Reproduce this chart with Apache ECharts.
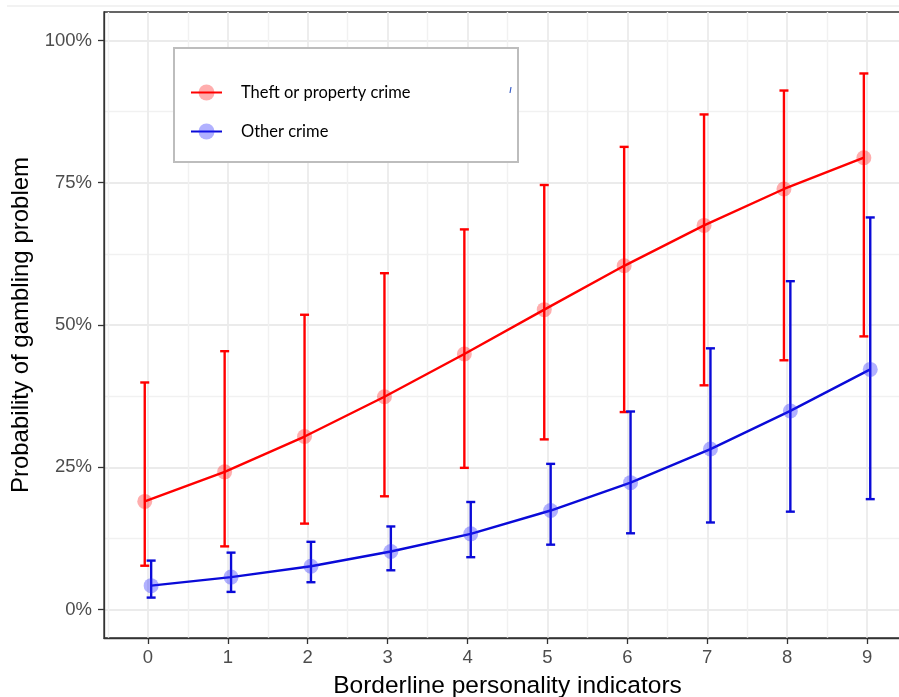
<!DOCTYPE html>
<html>
<head>
<meta charset="utf-8">
<script src="https://cdn.jsdelivr.net/npm/echarts@6/dist/echarts.min.js"></script>
<style>
  html, body { margin: 0; padding: 0; background: #ffffff; }
  #chart { width: 899px; height: 697px; }
</style>
</head>
<body>
<div id="chart"></div>
<script>
// ---- data ----
var indicators = [0, 1, 2, 3, 4, 5, 6, 7, 8, 9];
var xTickValues = [0, 1, 2, 3, 4, 5, 6, 7, 8, 9];
var xMinorValues = [-0.5, 0.5, 1.5, 2.5, 3.5, 4.5, 5.5, 6.5, 7.5, 8.5, 9.5];
var yTickValues = [0, 25, 50, 75, 100];
var yMinorValues = [12.5, 37.5, 62.5, 87.5];

var theftName = 'Theft or property crime';
var theftMid  = [19.0, 24.2, 30.4, 37.4, 44.9, 52.7, 60.4, 67.5, 73.9, 79.4];
var theftLow  = [7.7, 11.1, 15.1, 19.9, 24.9, 29.9, 34.7, 39.4, 43.8, 48.0];
var theftHigh = [39.9, 45.4, 51.8, 59.1, 66.8, 74.6, 81.3, 87.0, 91.2, 94.2];

var otherName = 'Other crime';
var otherMid  = [4.2, 5.7, 7.6, 10.2, 13.3, 17.4, 22.3, 28.2, 34.9, 42.2];
var otherLow  = [2.1, 3.1, 4.8, 6.9, 9.2, 11.4, 13.4, 15.3, 17.2, 19.4];
var otherHigh = [8.6, 10.0, 11.9, 14.6, 18.9, 25.6, 34.8, 45.9, 57.7, 68.9];

// ---- styling ----
var RED = '#ff0000';
var BLUE = '#0a0ad8';
var DODGE = 0.04;
var tickFont = 'Liberation Sans, Arial, sans-serif';

function pts(mid, shift) {
  return indicators.map(function (x, i) { return [x + shift, mid[i]]; });
}
function bars(lo, hi, shift) {
  return indicators.map(function (x, i) { return [x + shift, lo[i], hi[i]]; });
}
function errorBarSeries(name, data, color) {
  return {
    type: 'custom',
    name: name + ' CI',
    xAxisIndex: 0, yAxisIndex: 0,
    z: 3,
    silent: true,
    encode: { x: 0, y: [1, 2] },
    data: data,
    renderItem: function (params, api) {
      var x = api.value(0);
      var lo = api.coord([x, api.value(1)]);
      var hi = api.coord([x, api.value(2)]);
      var cap = 4.5;
      var st = { stroke: color, lineWidth: 2.4 };
      return {
        type: 'group',
        children: [
          { type: 'line', shape: { x1: lo[0], y1: lo[1], x2: hi[0], y2: hi[1] }, style: st },
          { type: 'line', shape: { x1: lo[0] - cap, y1: lo[1], x2: lo[0] + cap, y2: lo[1] }, style: st },
          { type: 'line', shape: { x1: hi[0] - cap, y1: hi[1], x2: hi[0] + cap, y2: hi[1] }, style: st }
        ]
      };
    }
  };
}
function lineSeries(name, data, color, fill) {
  return {
    type: 'line',
    name: name,
    xAxisIndex: 0, yAxisIndex: 0,
    z: 4,
    data: data,
    symbol: 'circle',
    symbolSize: 15,
    showSymbol: true,
    silent: true,
    lineStyle: { color: color, width: 2.4 },
    itemStyle: { color: fill, borderWidth: 0 },
    emphasis: { disabled: true }
  };
}

var chart = echarts.init(document.getElementById('chart'), null, { renderer: 'canvas' });

var option = {
  animation: false,
  backgroundColor: '#ffffff',
  grid: {
    left: 104, top: 12, width: 807, height: 626,
    outerBoundsMode: 'none',
    containLabel: false,
    show: true, borderColor: '#333333', borderWidth: 1.3, backgroundColor: 'transparent'
  },
  xAxis: [
    {
      type: 'value', min: -0.55, max: 9.55, position: 'bottom',
      name: 'Borderline personality indicators',
      nameLocation: 'middle', nameGap: 36,
      nameTextStyle: { fontSize: 24.5, color: '#000000', fontFamily: tickFont },
      axisLine: { show: true, onZero: false, lineStyle: { color: '#333333', width: 1.3 } },
      axisTick: { show: true, length: 6, customValues: xTickValues, lineStyle: { color: '#333333', width: 1.3 } },
      axisLabel: { customValues: xTickValues, fontSize: 18.5, color: '#4d4d4d', margin: 10, fontFamily: tickFont },
      splitLine: { show: true, lineStyle: { color: '#ebebeb', width: 1.8 } }
    },
    {
      type: 'value', min: -0.55, max: 9.55, position: 'top',
      axisLine: { show: false, onZero: false },
      axisTick: { show: false, customValues: xMinorValues },
      axisLabel: { show: false, customValues: xMinorValues },
      splitLine: { show: true, lineStyle: { color: '#f1f1f1', width: 1.4 } }
    }
  ],
  yAxis: [
    {
      type: 'value', min: -5, max: 105, position: 'left',
      name: 'Probability of gambling problem',
      nameLocation: 'middle', nameGap: 70,
      nameTextStyle: { fontSize: 24, color: '#000000', fontFamily: tickFont },
      axisLine: { show: true, onZero: false, lineStyle: { color: '#333333', width: 1.3 } },
      axisTick: { show: true, length: 6, customValues: yTickValues, lineStyle: { color: '#333333', width: 1.3 } },
      axisLabel: {
        customValues: yTickValues, fontSize: 18.5, color: '#4d4d4d', margin: 12, fontFamily: tickFont,
        formatter: function (v) { return v + '%'; }
      },
      splitLine: { show: true, lineStyle: { color: '#ebebeb', width: 1.8 } }
    },
    {
      type: 'value', min: -5, max: 105, position: 'right',
      axisLine: { show: false, onZero: false },
      axisTick: { show: false, customValues: yMinorValues },
      axisLabel: { show: false, customValues: yMinorValues },
      splitLine: { show: true, lineStyle: { color: '#f1f1f1', width: 1.4 } }
    }
  ],
  legend: {
    show: true,
    orient: 'vertical',
    left: 190, top: 84,
    itemWidth: 31, itemHeight: 20, itemGap: 22,
    padding: 0,
    z: 10,
    selectedMode: false,
    data: [theftName, otherName],
    textStyle: { fontSize: 16.5, color: '#000000', fontFamily: 'Lato, "Open Sans", sans-serif', padding: [0, 0, 0, 14] }
  },
  graphic: [
    { type: 'rect', z: 1, silent: true, shape: { x: 7, y: 5, width: 892, height: 2 }, style: { fill: '#f2f2f2' } },
    { type: 'rect', z: 8, silent: true, shape: { x: 174, y: 48, width: 344, height: 114 },
      style: { fill: '#ffffff', stroke: '#bdbdbd', lineWidth: 2 } },
    { type: 'line', z: 9, silent: true, shape: { x1: 511, y1: 87, x2: 510, y2: 93 }, style: { stroke: '#3a5fc8', lineWidth: 1.2 } }
  ],
  series: [
    errorBarSeries(theftName, bars(theftLow, theftHigh, -DODGE), RED),
    lineSeries(theftName, pts(theftMid, -DODGE), RED, 'rgba(255,0,0,0.32)'),
    errorBarSeries(otherName, bars(otherLow, otherHigh, DODGE), BLUE),
    lineSeries(otherName, pts(otherMid, DODGE), BLUE, 'rgba(40,40,255,0.36)')
  ]
};
chart.setOption(option);
</script>
</body>
</html>
